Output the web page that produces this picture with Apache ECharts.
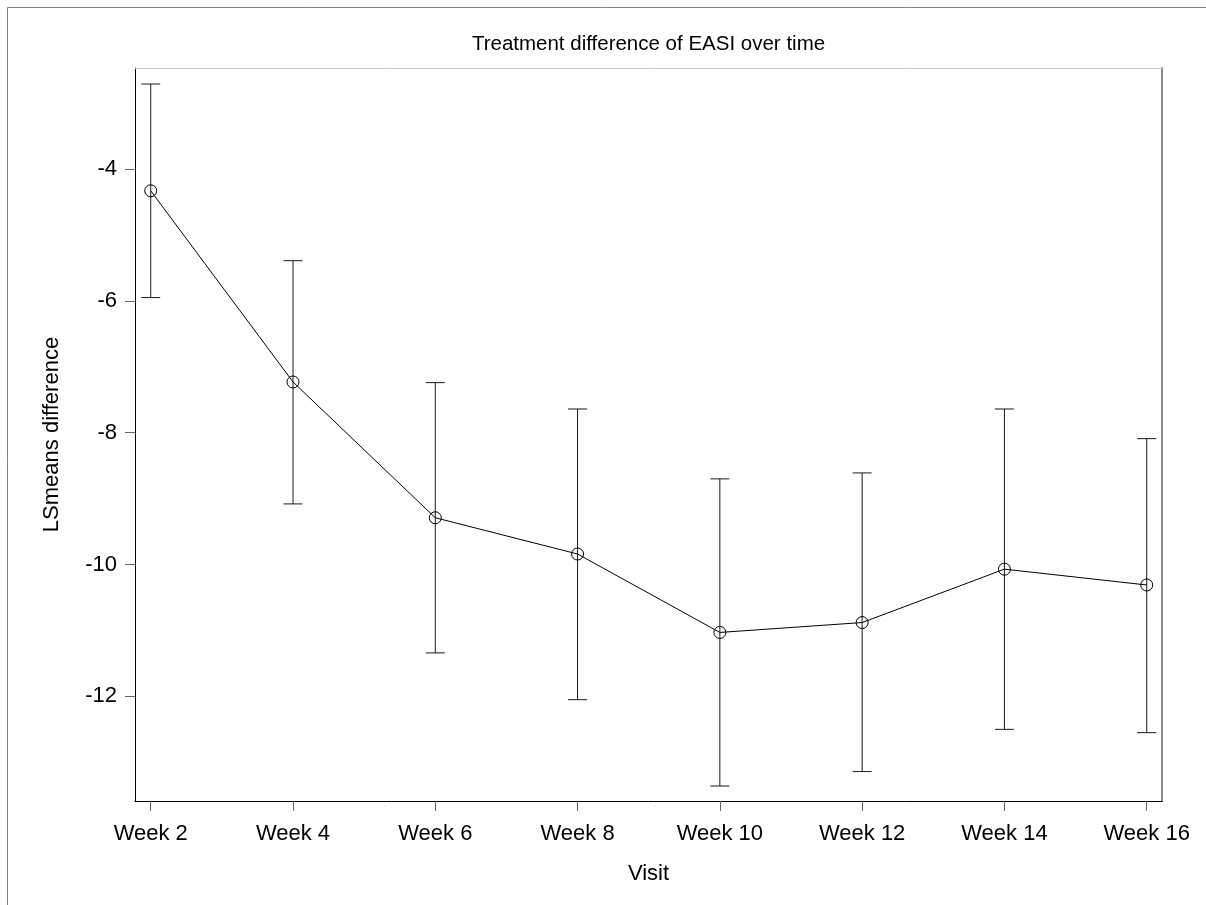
<!DOCTYPE html>
<html>
<head>
<meta charset="utf-8">
<title>Treatment difference of EASI over time</title>
<script src="https://cdn.jsdelivr.net/npm/echarts@6/dist/echarts.min.js"></script>
<style>
  html, body { margin: 0; padding: 0; background: #fff; }
  #chart { width: 1206px; height: 905px; }
</style>
</head>
<body>
<div id="chart"></div>
<script>
// Visit weeks and their axis labels
const weeks = [2, 4, 6, 8, 10, 12, 14, 16];
const weekLabels = ['Week 2', 'Week 4', 'Week 6', 'Week 8', 'Week 10', 'Week 12', 'Week 14', 'Week 16'];

// LS means difference (treatment - placebo) with 95% CI bounds
const lsmDiff = [-4.33, -7.23, -9.29, -9.84, -11.03, -10.88, -10.07, -10.31];
const ciLower = [-5.95, -9.08, -11.34, -12.05, -13.36, -13.14, -12.50, -12.55];
const ciUpper = [-2.71, -5.39, -7.24, -7.64, -8.70, -8.61, -7.64, -8.09];

// Y-axis tick values
const yTicks = [-12, -10, -8, -6, -4];

const FONT = '"Liberation Sans", Arial, sans-serif';

const chart = echarts.init(document.getElementById('chart'), null, { renderer: 'canvas' });

const linePoints = weeks.map((w, i) => [w, lsmDiff[i]]);
const barData = weeks.map((w, i) => [w, ciLower[i], ciUpper[i]]);

const CAP_HALF = 9.5;

const option = {
  backgroundColor: '#ffffff',
  animation: false,
  textStyle: { fontFamily: FONT },
  graphic: [
    // outer frame (left and top edges)
    { type: 'line', silent: true, shape: { x1: 7.5, y1: 7.5, x2: 1206, y2: 7.5 }, style: { stroke: '#808080', lineWidth: 1 } },
    { type: 'line', silent: true, shape: { x1: 7.5, y1: 7.5, x2: 7.5, y2: 905 }, style: { stroke: '#808080', lineWidth: 1 } },
    {
      type: 'text', silent: true, x: 648.5, y: 44,
      style: {
        text: 'Treatment difference of EASI over time',
        font: '20.5px ' + FONT, fill: '#000', align: 'center', verticalAlign: 'middle'
      }
    }
  ],
  grid: { left: 135, top: 68, width: 1027, height: 733, containLabel: false },
  xAxis: [
    {
      type: 'value',
      min: 1.779,
      max: 16.215,
      name: 'Visit',
      nameLocation: 'middle',
      nameGap: 62,
      nameTextStyle: { fontSize: 22, color: '#000', fontFamily: FONT },
      axisLine: { show: true, onZero: false, lineStyle: { color: '#000', width: 1 } },
      axisTick: { show: true, inside: false, length: 10, customValues: weeks, lineStyle: { color: '#666' } },
      axisLabel: {
        show: true, margin: 22, fontSize: 22, color: '#000', fontFamily: FONT,
        customValues: weeks,
        formatter: v => weekLabels[weeks.indexOf(Math.round(v))] || ''
      },
      splitLine: { show: false }
    },
    {
      type: 'value', position: 'top', min: 1.779, max: 16.215,
      axisLine: { show: true, onZero: false, lineStyle: { color: '#cccccc', width: 1 } },
      axisTick: { show: false }, axisLabel: { show: false }, splitLine: { show: false }
    }
  ],
  yAxis: [
    {
      type: 'value',
      min: -13.587,
      max: -2.467,
      name: 'LSmeans difference',
      nameLocation: 'middle',
      nameGap: 72,
      nameRotate: 90,
      nameTextStyle: { fontSize: 22, color: '#000', fontFamily: FONT },
      axisLine: { show: true, onZero: false, lineStyle: { color: '#000', width: 1 } },
      axisTick: { show: true, inside: false, length: 10, customValues: yTicks, lineStyle: { color: '#666' } },
      axisLabel: { show: true, margin: 18, fontSize: 22, color: '#000', fontFamily: FONT, customValues: yTicks },
      splitLine: { show: false }
    },
    {
      type: 'value', position: 'right', min: -13.587, max: -2.467,
      axisLine: { show: true, onZero: false, lineStyle: { color: '#8a8a8a', width: 2 } },
      axisTick: { show: false }, axisLabel: { show: false }, splitLine: { show: false }
    }
  ],
  series: [
    {
      name: '95% CI',
      type: 'custom',
      xAxisIndex: 0,
      yAxisIndex: 0,
      data: barData,
      renderItem: function (params, api) {
        const x = api.value(0);
        const lo = api.coord([x, api.value(1)]);
        const hi = api.coord([x, api.value(2)]);
        const style = { stroke: '#1a1a1a', lineWidth: 1, fill: null };
        return {
          type: 'group',
          children: [
            { type: 'line', shape: { x1: lo[0], y1: lo[1], x2: hi[0], y2: hi[1] }, style: style },
            { type: 'line', shape: { x1: hi[0] - CAP_HALF, y1: hi[1], x2: hi[0] + CAP_HALF, y2: hi[1] }, style: style },
            { type: 'line', shape: { x1: lo[0] - CAP_HALF, y1: lo[1], x2: lo[0] + CAP_HALF, y2: lo[1] }, style: style }
          ]
        };
      },
      z: 2
    },
    {
      name: 'LSmeans difference',
      type: 'line',
      xAxisIndex: 0,
      yAxisIndex: 0,
      data: linePoints,
      symbol: 'circle',
      symbolSize: 12,
      lineStyle: { color: '#000', width: 1 },
      itemStyle: { color: 'rgba(0,0,0,0)', borderColor: '#000', borderWidth: 1 },
      z: 3
    }
  ]
};

chart.setOption(option);
</script>
</body>
</html>
